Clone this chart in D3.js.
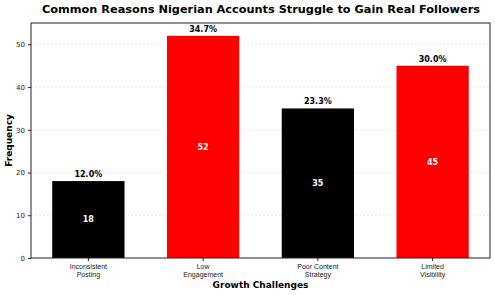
<!DOCTYPE html>
<html>
<head>
<meta charset="utf-8">
<script src="https://cdn.jsdelivr.net/npm/d3@7"></script>
<style>
  body { margin: 0; background: #fff; }
  svg { font-family: "DejaVu Sans", sans-serif; }
</style>
</head>
<body>
<div id="viz"></div>
<script>
const categories = ["Inconsistent\nPosting", "Low\nEngagement", "Poor Content\nStrategy", "Limited\nVisibility"];
const counts = [18, 52, 35, 45];
const percents = ["12.0%", "34.7%", "23.3%", "30.0%"];
const barColors = ["#000000", "#ff0000", "#000000", "#ff0000"];
const yTicks = [0, 10, 20, 30, 40, 50];

const W = 495, H = 295;
const margin = {top: 23, right: 5, bottom: 37, left: 31};
const width = W - margin.left - margin.right;
const height = H - margin.top - margin.bottom;

const svg = d3.select("#viz").append("svg")
  .attr("width", W)
  .attr("height", H);

const g = svg.append("g").attr("transform", `translate(${margin.left},${margin.top})`);

const x = d3.scaleBand()
  .domain(categories)
  .range([0, width])
  .paddingInner(0.37)
  .paddingOuter(0.185);

const y = d3.scaleLinear()
  .domain([0, 55])
  .range([height, 0]);

// grid
g.selectAll("line.grid")
  .data(yTicks.slice(1))
  .enter().append("line")
  .attr("x1", 0).attr("x2", width)
  .attr("y1", d => y(d)).attr("y2", d => y(d))
  .attr("stroke", "#dddddd")
  .attr("stroke-width", 0.6)
  .attr("stroke-dasharray", "2,2");

// bars
g.selectAll("rect.bar")
  .data(counts)
  .enter().append("rect")
  .attr("x", (d, i) => x(categories[i]))
  .attr("y", d => y(d))
  .attr("width", x.bandwidth())
  .attr("height", d => height - y(d))
  .attr("fill", (d, i) => barColors[i]);

// values inside bars
g.selectAll("text.val")
  .data(counts)
  .enter().append("text")
  .attr("x", (d, i) => x(categories[i]) + x.bandwidth() / 2)
  .attr("y", d => y(d / 2))
  .attr("dy", "0.35em")
  .attr("text-anchor", "middle")
  .attr("fill", "#fff")
  .attr("font-weight", "bold")
  .attr("font-size", 8)
  .text(d => d);

// percents above bars
g.selectAll("text.pct")
  .data(counts)
  .enter().append("text")
  .attr("x", (d, i) => x(categories[i]) + x.bandwidth() / 2)
  .attr("y", d => y(d) - 4)
  .attr("text-anchor", "middle")
  .attr("fill", "#000")
  .attr("font-weight", "bold")
  .attr("font-size", 8)
  .text((d, i) => percents[i]);

// y axis
const yAxis = g.append("g")
  .call(d3.axisLeft(y).tickValues(yTicks).tickSize(3).tickPadding(3));
yAxis.select(".domain").remove();
yAxis.selectAll("text").attr("font-size", 7).attr("fill", "#222").attr("font-family", "DejaVu Sans, sans-serif");
yAxis.selectAll("line").attr("stroke", "#222");

// x axis
const xAxis = g.append("g")
  .attr("transform", `translate(0,${height})`)
  .call(d3.axisBottom(x).tickSize(3).tickFormat(""));
xAxis.select(".domain").remove();
xAxis.selectAll("line").attr("stroke", "#222");
xAxis.selectAll(".tick").each(function(d) {
  const t = d3.select(this).append("text")
    .attr("fill", "#222")
    .attr("font-size", 7)
    .attr("text-anchor", "middle");
  d.split("\n").forEach((line, i) => {
    t.append("tspan").attr("x", 0).attr("y", 11 + i * 8.3).text(line);
  });
});

// frame
g.append("rect")
  .attr("width", width).attr("height", height)
  .attr("fill", "none")
  .attr("stroke", "#222")
  .attr("stroke-width", 1);

// labels
svg.append("text")
  .attr("x", 261).attr("y", 13)
  .attr("text-anchor", "middle")
  .attr("font-weight", "bold")
  .attr("font-size", 11.3)
  .text("Common Reasons Nigerian Accounts Struggle to Gain Real Followers");

svg.append("text")
  .attr("x", margin.left + width / 2).attr("y", 288)
  .attr("text-anchor", "middle")
  .attr("font-weight", "bold")
  .attr("font-size", 9)
  .text("Growth Challenges");

svg.append("text")
  .attr("transform", `translate(12,${margin.top + height / 2}) rotate(-90)`)
  .attr("text-anchor", "middle")
  .attr("font-weight", "bold")
  .attr("font-size", 9)
  .text("Frequency");
</script>
</body>
</html>
